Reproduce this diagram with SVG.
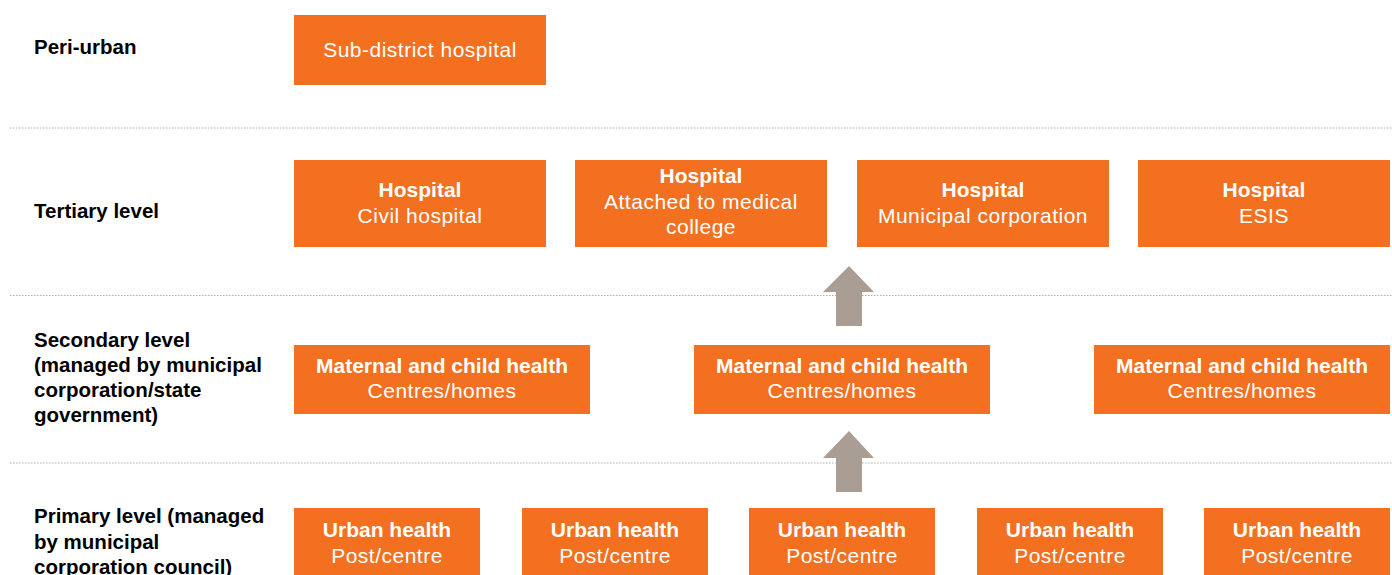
<svg xmlns="http://www.w3.org/2000/svg" width="1392" height="575" viewBox="0 0 1392 575">
<style>
.box{fill:#f37021}
.bt{font-family:"Liberation Sans",Arial,sans-serif;font-size:21px;fill:#fff;text-anchor:middle;letter-spacing:0.5px}
.b{font-weight:bold;letter-spacing:0}
.lab{font-family:"Liberation Sans",Arial,sans-serif;font-size:20.5px;font-weight:bold;fill:#000}
.sep{stroke:#b0aaa5;stroke-width:1;stroke-dasharray:1.5 1.5}
.arr{fill:#aa9e94}
</style>
<rect width="1392" height="575" fill="#fff"/>
<g id="separators">
<line class="sep" x1="10" y1="128" x2="1392" y2="128"/>
<line class="sep" x1="10" y1="295.5" x2="1392" y2="295.5"/>
<line class="sep" x1="10" y1="463" x2="1392" y2="463"/>
</g>
<g id="labels">
<text class="lab" x="34" y="54">Peri-urban</text>
<text class="lab" x="34" y="218">Tertiary level</text>
<text class="lab" x="34" y="347">Secondary level<tspan x="34" dy="25">(managed by municipal</tspan><tspan x="34" dy="25">corporation/state</tspan><tspan x="34" dy="25">government)</tspan></text>
<text class="lab" x="34" y="523">Primary level (managed<tspan x="34" dy="25.5">by municipal</tspan><tspan x="34" dy="25.5">corporation council)</tspan></text>
</g>
<g id="sub-district">
<rect class="box" x="294" y="15" width="252" height="70"/>
<text class="bt" x="420" y="57">Sub-district hospital</text>
</g>
<g id="hosp-civil">
<rect class="box" x="294" y="160" width="252" height="87"/>
<text class="bt" x="420" y="197"><tspan class="b">Hospital</tspan><tspan x="420" dy="26">Civil hospital</tspan></text>
</g>
<g id="hosp-medical">
<rect class="box" x="575" y="160" width="252" height="87"/>
<text class="bt" x="701" y="183"><tspan class="b">Hospital</tspan><tspan x="701" dy="25.5">Attached to medical</tspan><tspan x="701" dy="25.5">college</tspan></text>
</g>
<g id="hosp-municipal">
<rect class="box" x="857" y="160" width="252" height="87"/>
<text class="bt" x="983" y="197"><tspan class="b">Hospital</tspan><tspan x="983" dy="26">Municipal corporation</tspan></text>
</g>
<g id="hosp-esis">
<rect class="box" x="1138" y="160" width="252" height="87"/>
<text class="bt" x="1264" y="197"><tspan class="b">Hospital</tspan><tspan x="1264" dy="26">ESIS</tspan></text>
</g>
<g id="mch-1">
<rect class="box" x="294" y="345" width="296" height="69"/>
<text class="bt" x="442" y="373"><tspan class="b">Maternal and child health</tspan><tspan x="442" dy="25">Centres/homes</tspan></text>
</g>
<g id="mch-2">
<rect class="box" x="694" y="345" width="296" height="69"/>
<text class="bt" x="842" y="373"><tspan class="b">Maternal and child health</tspan><tspan x="842" dy="25">Centres/homes</tspan></text>
</g>
<g id="mch-3">
<rect class="box" x="1094" y="345" width="296" height="69"/>
<text class="bt" x="1242" y="373"><tspan class="b">Maternal and child health</tspan><tspan x="1242" dy="25">Centres/homes</tspan></text>
</g>
<g id="uhp-1">
<rect class="box" x="294" y="508" width="186" height="67"/>
<text class="bt" x="387" y="537"><tspan class="b">Urban health</tspan><tspan x="387" dy="25.5">Post/centre</tspan></text>
</g>
<g id="uhp-2">
<rect class="box" x="522" y="508" width="186" height="67"/>
<text class="bt" x="615" y="537"><tspan class="b">Urban health</tspan><tspan x="615" dy="25.5">Post/centre</tspan></text>
</g>
<g id="uhp-3">
<rect class="box" x="749" y="508" width="186" height="67"/>
<text class="bt" x="842" y="537"><tspan class="b">Urban health</tspan><tspan x="842" dy="25.5">Post/centre</tspan></text>
</g>
<g id="uhp-4">
<rect class="box" x="977" y="508" width="186" height="67"/>
<text class="bt" x="1070" y="537"><tspan class="b">Urban health</tspan><tspan x="1070" dy="25.5">Post/centre</tspan></text>
</g>
<g id="uhp-5">
<rect class="box" x="1204" y="508" width="186" height="67"/>
<text class="bt" x="1297" y="537"><tspan class="b">Urban health</tspan><tspan x="1297" dy="25.5">Post/centre</tspan></text>
</g>
<g id="connectors">
<polygon class="arr" points="849,266 874,292 862,292 862,326 836,326 836,292 823,292"/>
<polygon class="arr" points="849,431 874,458 862,458 862,492 836,492 836,458 823,458"/>
</g>
</svg>
